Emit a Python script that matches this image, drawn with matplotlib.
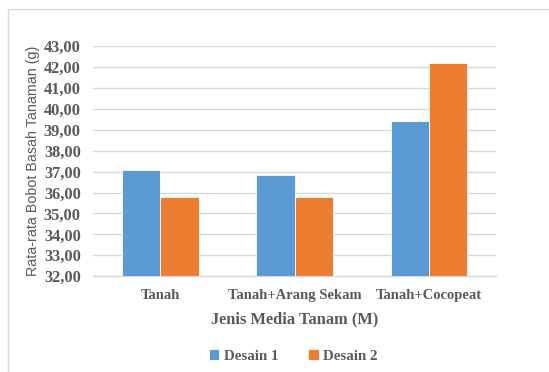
import matplotlib
matplotlib.use("Agg")
import matplotlib.pyplot as plt
import numpy as np
from matplotlib.patches import Rectangle

categories = ["Tanah", "Tanah+Arang Sekam", "Tanah+Cocopeat"]
desain1 = [37.07, 36.82, 39.40]
desain2 = [35.80, 35.80, 42.17]
series_names = ["Desain 1", "Desain 2"]
yticks = [32, 33, 34, 35, 36, 37, 38, 39, 40, 41, 42, 43]
ytick_labels = [f"{v:.2f}".replace(".", ",") for v in yticks]

c1 = "#5B9BD5"
c2 = "#ED7D31"
tick_color = "#595959"
serif = "Liberation Serif"

fig = plt.figure(figsize=(5.49, 3.72), dpi=100)
# outer chart border
fig.patches.append(Rectangle((8/549, -0.1), 1.0, 1 - 9/372 + 0.1, transform=fig.transFigure,
                             fill=False, edgecolor="#d9d9d9", linewidth=1.0))

ax = fig.add_axes([93.3/549, 1 - 276.3/372, (496 - 93.3)/549, (276.3 - 46)/372])
x = np.arange(len(categories))
w = 0.285
ax.bar(x - w/2, desain1, w, bottom=0, color=c1, edgecolor="white", linewidth=0.6, label=series_names[0], zorder=3)
ax.bar(x + w/2, desain2, w, bottom=0, color=c2, edgecolor="white", linewidth=0.6, label=series_names[1], zorder=3)
ax.set_ylim(32, 43)
ax.set_xlim(-0.5, 2.5)
ax.set_yticks(yticks)
ax.set_yticklabels(ytick_labels, fontfamily=serif, fontweight="bold", fontsize=11.8, color=tick_color)
ax.set_xticks(x)
ax.set_xticklabels(categories, fontfamily=serif, fontweight="bold", fontsize=10.5, color=tick_color)
ax.tick_params(axis="both", length=0)
ax.tick_params(axis="y", pad=9)
ax.tick_params(axis="x", pad=9)
ax.grid(axis="y", color="#d9d9d9", linewidth=1.0, zorder=0)
for s in ["top", "right", "left"]:
    ax.spines[s].set_visible(False)
ax.spines["bottom"].set_color("#d9d9d9")
ax.spines["bottom"].set_linewidth(1.0)

ax.set_xlabel("Jenis Media Tanam (M)", fontfamily=serif, fontweight="bold", fontsize=11.8,
              color=tick_color, labelpad=7)
ax.set_ylabel("Rata-rata Bobot Basah Tanaman (g)", fontfamily="Liberation Sans", fontsize=10.3,
              color=tick_color, labelpad=3)

leg = fig.legend(loc="center", bbox_to_anchor=(293/549, 1 - 356/372), ncol=2, frameon=False,
                 prop={"family": serif, "weight": "bold", "size": 10.8},
                 handlelength=0.7, handleheight=0.7, handletextpad=0.3, columnspacing=2.0)
for t in leg.get_texts():
    t.set_color(tick_color)

fig.savefig("out.png", dpi=100)
